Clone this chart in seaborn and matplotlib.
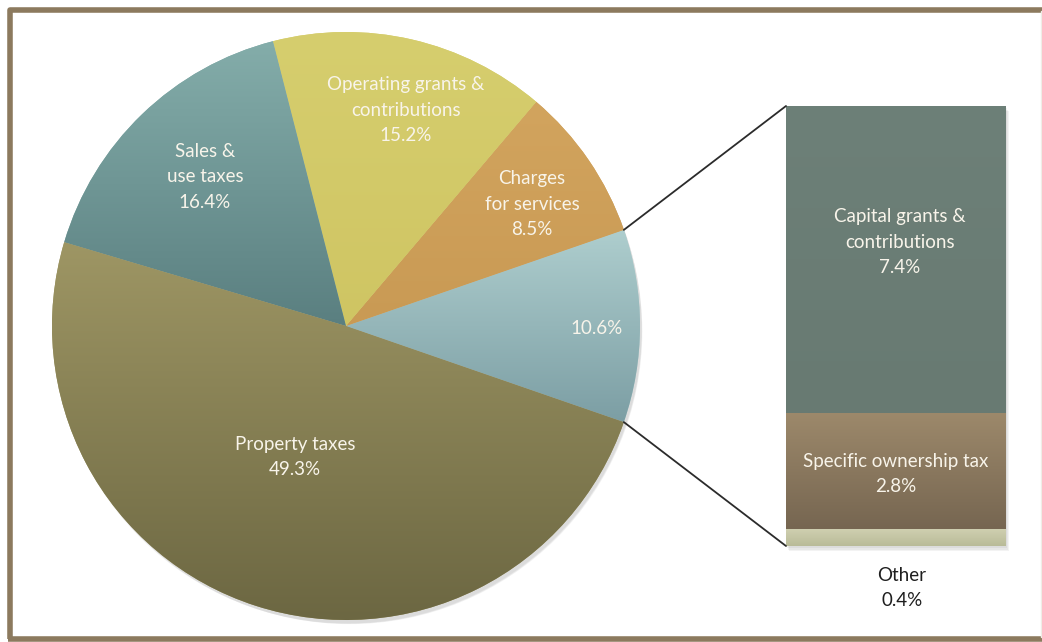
import numpy as np
import matplotlib
matplotlib.use("Agg")
import matplotlib.pyplot as plt
from matplotlib.colors import LinearSegmentedColormap
from matplotlib.patches import ConnectionPatch, Rectangle, Circle
import seaborn as sns

sns.set_theme(style="white")
plt.rcParams["font.family"] = ["Lato", "DejaVu Sans"]

# Revenue shares (percent of total)
pie_labels = ["", "Charges\nfor services", "Operating grants &\ncontributions",
              "Sales &\nuse taxes", "Property taxes"]
pie_values = [10.6, 8.5, 15.2, 16.4, 49.3]

# Breakdown of the 10.6% slice, stacked bottom to top
bar_labels = ["Other", "Specific ownership tax", "Capital grants &\ncontributions"]
bar_values = [0.4, 2.8, 7.4]

# Gradient colours (top, bottom) per slice / segment
pie_colors = [("#AECECE", "#7C9EA4"), ("#D2A45E", "#C99A54"), ("#D6CE6E", "#CFC563"),
              ("#84ADAA", "#5A7F80"), ("#9E9664", "#6C6742")]
bar_colors = [("#CFCFB0", "#B9BB98"), ("#9D896B", "#766651"), ("#6D8078", "#687A72")]

W, H = 1042, 642
fig = plt.figure(figsize=(W / 100, H / 100), dpi=100)
fig.patch.set_facecolor("white")

# Overlay axes in pixel coordinates: frame and labels
frame = fig.add_axes([0, 0, 1, 1])
frame.set_xlim(0, W)
frame.set_ylim(H, 0)
frame.axis("off")
frame.set_zorder(10)
frame.plot([10, 10, 1042], [639, 9.5, 9.5], color="#8C7A5E", lw=4, solid_capstyle="butt")
frame.plot([8, 1042], [639, 639], color="#8C7A5E", lw=4, solid_capstyle="butt")
frame.plot([1040.5, 1040.5], [11, 637], color="#EFEDE6", lw=1)

def gradient_fill(ax, patch, top, bottom, z):
    x0, y0, x1, y1 = patch.get_path().get_extents(patch.get_patch_transform()).extents
    cmap = LinearSegmentedColormap.from_list("g", [bottom, top])
    grad = np.linspace(0, 1, 256).reshape(-1, 1)
    im = ax.imshow(grad, cmap=cmap, origin="lower", extent=[x0, x1, y0, y1],
                   aspect="auto", zorder=z, interpolation="bicubic")
    im.set_clip_path(patch)
    return im

# Pie: centre (346, 326) px, radius 294 px
R_PX = 294
half = 300
ax_pie = fig.add_axes([(346 - half) / W, (H - 326 - half) / H, 2 * half / W, 2 * half / H])
ax_pie.axis("off")

start = -pie_values[0] / 2 * 3.6
# soft drop shadow under the pie
for i in range(3):
    ax_pie.add_patch(Circle((0.006 + 0.003 * i, -0.012 - 0.003 * i), 1.0 - 0.002 * i,
                            facecolor="k", alpha=0.05, lw=0, zorder=0))
wedges, _ = ax_pie.pie(pie_values, startangle=start, counterclock=True, radius=1.0,
                       colors=[c[0] for c in pie_colors],
                       wedgeprops=dict(linewidth=0, zorder=1))
for w, (top, bottom) in zip(wedges, pie_colors):
    gradient_fill(ax_pie, w, top, bottom, 2)
ax_pie.set_xlim(-half / R_PX, half / R_PX)
ax_pie.set_ylim(-half / R_PX, half / R_PX)

# Stacked breakdown bar
bx0, bx1, by0, by1 = 786, 1006, 106, 546
ax_bar = fig.add_axes([bx0 / W, (H - by1) / H, (bx1 - bx0) / W, (by1 - by0) / H])
ax_bar.axis("off")
total = sum(bar_values)
bottoms = np.concatenate([[0], np.cumsum(bar_values)[:-1]])
for i in range(3):
    ax_bar.add_patch(Rectangle((-0.5 + 0.006 + 0.004 * i, -0.06 - 0.03 * i), 1.0, total,
                               facecolor="k", alpha=0.05, lw=0, zorder=0, clip_on=False))
bars = ax_bar.bar([0] * len(bar_values), bar_values, bottom=bottoms, width=1.0,
                  color=[c[0] for c in bar_colors], linewidth=0, zorder=1)
for b, (top, bottom) in zip(bars, bar_colors):
    x, y = b.get_x(), b.get_y()
    cmap = LinearSegmentedColormap.from_list("g", [bottom, top])
    im = ax_bar.imshow(np.linspace(0, 1, 256).reshape(-1, 1), cmap=cmap, origin="lower",
                       extent=[x, x + b.get_width(), y, y + b.get_height()],
                       aspect="auto", zorder=2)
    im.set_clip_path(b)
ax_bar.set_xlim(-0.5, 0.5)
ax_bar.set_ylim(0, total)

# Connector lines from the split slice to the bar
for ang, yb in [(np.deg2rad(pie_values[0] / 2 * 3.6), total),
                (np.deg2rad(-pie_values[0] / 2 * 3.6), 0)]:
    con = ConnectionPatch(xyA=(np.cos(ang), np.sin(ang)), coordsA=ax_pie.transData,
                          xyB=(-0.5, yb), coordsB=ax_bar.transData,
                          color="#2B2B2B", lw=1.3, zorder=5)
    fig.add_artist(con)

# Labels
txt = "#F8F4EA"
fs = 13.5
def label(x, y, s, color=txt):
    frame.text(x, y, s, ha="center", va="center", color=color, fontsize=fs,
               linespacing=1.6, zorder=10)

label(406, 110, f"{pie_labels[2]}\n{pie_values[2]}%")
label(205, 177, f"{pie_labels[3]}\n{pie_values[3]}%")
label(532, 204, f"{pie_labels[1]}\n{pie_values[1]}%")
label(597, 328, f"{pie_values[0]}%")
label(295, 457, f"{pie_labels[4]}\n{pie_values[4]}%")
label(900, 242, f"{bar_labels[2]}\n{bar_values[2]}%")
label(896, 474, f"{bar_labels[1]}\n{bar_values[1]}%")
label(902, 588, f"{bar_labels[0]}\n{bar_values[0]}%", color="#1E1E1E")

fig.savefig("out.png", dpi=100, facecolor="white")
